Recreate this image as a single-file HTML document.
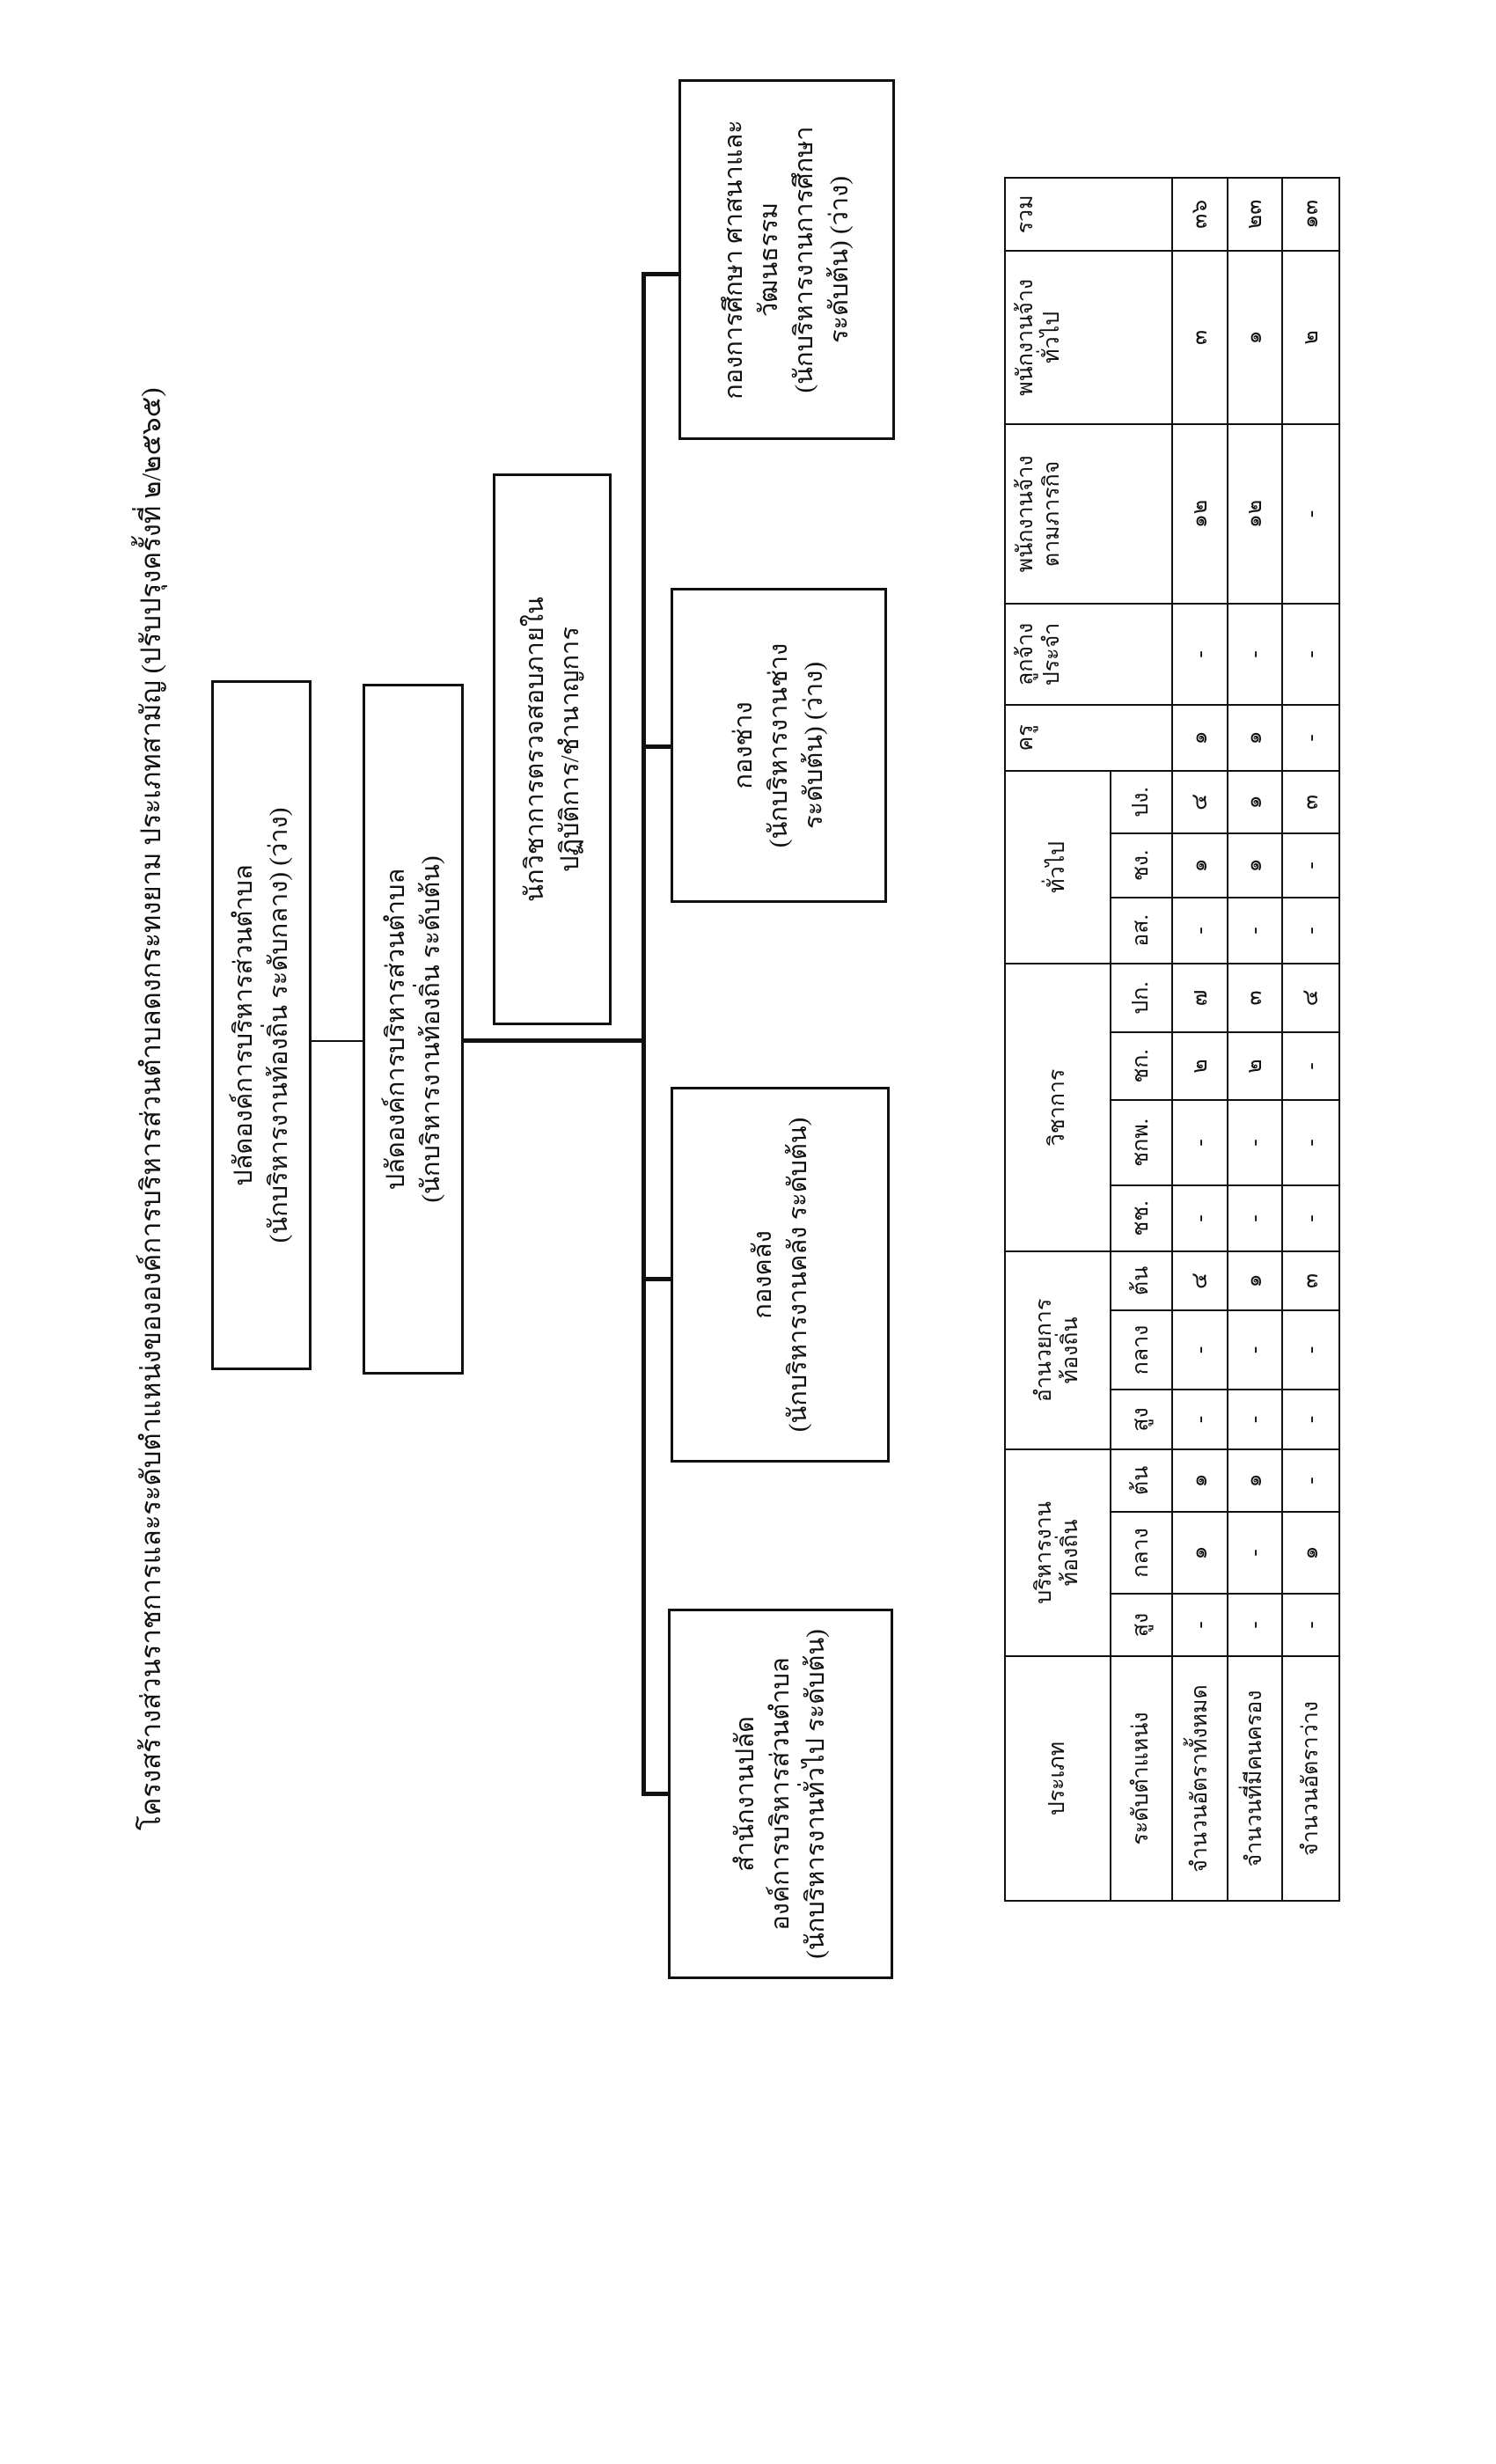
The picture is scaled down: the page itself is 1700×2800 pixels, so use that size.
<!DOCTYPE html>
<html><head><meta charset="utf-8"><style>
html,body{margin:0;padding:0;background:#fff;}
body{width:1700px;height:2800px;position:relative;overflow:hidden;}
#L{position:absolute;left:0;top:0;width:2800px;height:1700px;transform-origin:0 0;transform:translateY(2800px) rotate(-90deg);font-family:"Liberation Serif","Noto Serif CJK SC","Noto Sans CJK SC",serif;color:#111;}
.a{position:absolute;}
.box{position:absolute;border:3px solid #111;box-sizing:border-box;display:flex;flex-direction:column;align-items:center;justify-content:center;text-align:center;font-size:29px;line-height:40px;}
.ln{position:absolute;background:#111;}
table{position:absolute;border-collapse:collapse;table-layout:fixed;font-size:25px;}
td{border:2px solid #111;padding:0;text-align:center;vertical-align:middle;line-height:30px;}
</style></head><body>
<div id="L">
<div class="a" style="left:720px;top:146px;width:1700px;font-size:31px;white-space:nowrap;">โครงสร้างส่วนราชการและระดับตำแหน่งขององค์การบริหารส่วนตำบลดงกระทงยาม ประเภทสามัญ (ปรับปรุงครั้งที่ ๒/๒๕๖๕)</div>

<div class="box" style="left:1243px;top:240px;width:784px;height:114px;"><div>ปลัดองค์การบริหารส่วนตำบล</div><div>(นักบริหารงานท้องถิ่น ระดับกลาง) (ว่าง)</div></div>
<div class="box" style="left:1238px;top:412px;width:785px;height:115px;"><div>ปลัดองค์การบริหารส่วนตำบล</div><div>(นักบริหารงานท้องถิ่น ระดับต้น)</div></div>
<div class="ln" style="left:1616px;top:354px;width:2px;height:58px;"></div>
<div class="box" style="left:1635px;top:560px;width:627px;height:135px;"><div>นักวิชาการตรวจสอบภายใน</div><div>ปฏิบัติการ/ชำนาญการ</div></div>

<div class="ln" style="left:1615px;top:527px;width:5px;height:206px;"></div>
<div class="ln" style="left:759px;top:729px;width:1732px;height:5px;"></div>
<div class="ln" style="left:2486px;top:729px;width:5px;height:44px;"></div>
<div class="ln" style="left:1949px;top:729px;width:5px;height:34px;"></div>
<div class="ln" style="left:1344px;top:729px;width:5px;height:34px;"></div>
<div class="ln" style="left:759px;top:729px;width:5px;height:32px;"></div>

<div class="box" style="left:2300px;top:771px;width:410px;height:246px;"><div>กองการศึกษา ศาสนาและ</div><div>วัฒนธรรม</div><div>(นักบริหารงานการศึกษา</div><div>ระดับต้น) (ว่าง)</div></div>
<div class="box" style="left:1774px;top:762px;width:358px;height:246px;"><div>กองช่าง</div><div>(นักบริหารงานช่าง</div><div>ระดับต้น) (ว่าง)</div></div>
<div class="box" style="left:1138px;top:762px;width:427px;height:249px;"><div>กองคลัง</div><div>(นักบริหารงานคลัง ระดับต้น)</div></div>
<div class="box" style="left:551px;top:759px;width:421px;height:256px;"><div>สำนักงานปลัด</div><div>องค์การบริหารส่วนตำบล</div><div>(นักบริหารงานทั่วไป ระดับต้น)</div></div>

<table style="left:639px;top:1141px;width:1958px;">
<colgroup>
<col style="width:278px"><col style="width:71px"><col style="width:93px"><col style="width:71px">
<col style="width:68px"><col style="width:90px"><col style="width:67px">
<col style="width:75px"><col style="width:97px"><col style="width:77px"><col style="width:78px">
<col style="width:75px"><col style="width:73px"><col style="width:71px">
<col style="width:75px"><col style="width:115px"><col style="width:204px"><col style="width:197px"><col style="width:83px">
</colgroup>
<tr style="height:120px">
<td>ประเภท</td><td colspan="3">บริหารงาน<br>ท้องถิ่น</td><td colspan="3">อำนวยการ<br>ท้องถิ่น</td><td colspan="4">วิชาการ</td><td colspan="3">ทั่วไป</td>
<td rowspan="2" style="vertical-align:top;padding-top:8px">ครู</td><td rowspan="2" style="vertical-align:top;padding-top:8px">ลูกจ้าง<br>ประจำ</td><td rowspan="2" style="vertical-align:top;padding-top:8px">พนักงานจ้าง<br>ตามภารกิจ</td><td rowspan="2" style="vertical-align:top;padding-top:8px">พนักงานจ้าง<br>ทั่วไป</td><td rowspan="2" style="vertical-align:top;padding-top:8px">รวม</td>
</tr>
<tr style="height:70px"><td>ระดับตำแหน่ง</td><td>สูง</td><td>กลาง</td><td>ต้น</td><td>สูง</td><td>กลาง</td><td>ต้น</td><td>ชช.</td><td>ชกพ.</td><td>ชก.</td><td>ปก.</td><td>อส.</td><td>ชง.</td><td>ปง.</td></tr>
<tr style="height:63px"><td>จำนวนอัตราทั้งหมด</td><td>-</td><td>๑</td><td>๑</td><td>-</td><td>-</td><td>๔</td><td>-</td><td>-</td><td>๒</td><td>๗</td><td>-</td><td>๑</td><td>๔</td><td>๑</td><td>-</td><td>๑๒</td><td>๓</td><td>๓๖</td></tr>
<tr style="height:62px"><td>จำนวนที่มีคนครอง</td><td>-</td><td>-</td><td>๑</td><td>-</td><td>-</td><td>๑</td><td>-</td><td>-</td><td>๒</td><td>๓</td><td>-</td><td>๑</td><td>๑</td><td>๑</td><td>-</td><td>๑๒</td><td>๑</td><td>๒๓</td></tr>
<tr style="height:65px"><td>จำนวนอัตราว่าง</td><td>-</td><td>๑</td><td>-</td><td>-</td><td>-</td><td>๓</td><td>-</td><td>-</td><td>-</td><td>๔</td><td>-</td><td>-</td><td>๓</td><td>-</td><td>-</td><td>-</td><td>๒</td><td>๑๓</td></tr>
</table>
</div>
</body></html>
